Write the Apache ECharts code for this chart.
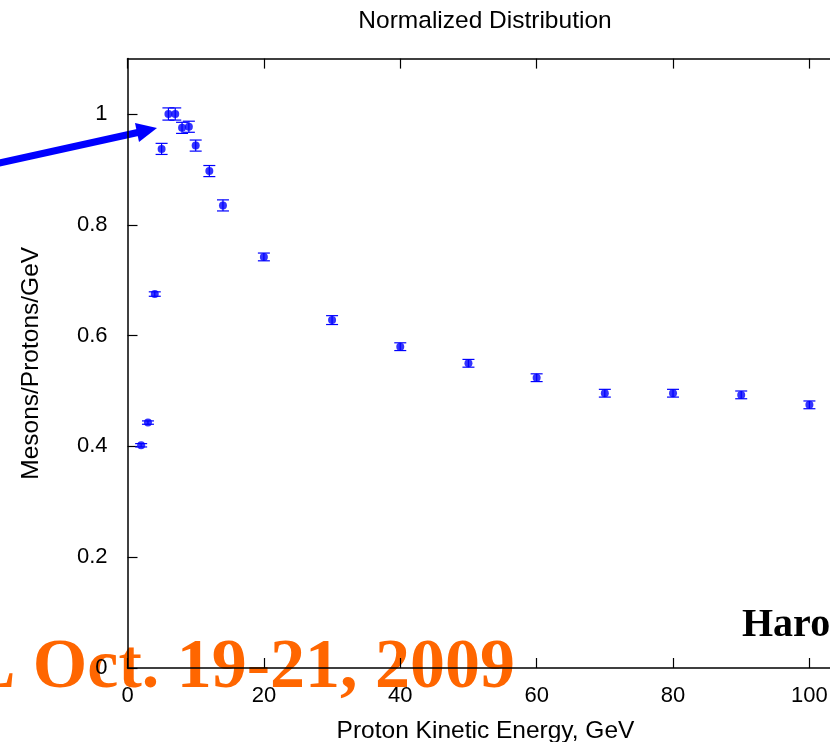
<!DOCTYPE html>
<html>
<head>
<meta charset="utf-8">
<script src="https://cdn.jsdelivr.net/npm/echarts@6/dist/echarts.min.js"></script>
<style>
  html, body { margin: 0; padding: 0; background: #fff; }
  #chart { width: 830px; height: 742px; }
</style>
</head>
<body>
<div id="chart"></div>
<script>
// Proton kinetic energy (GeV)
const energies = [2, 3, 4, 5, 6, 7, 8, 9, 10, 12, 14, 20, 30, 40, 50, 60, 70, 80, 90, 100];
// Mesons per proton per GeV, normalized
const ratios = [0.402, 0.443, 0.675, 0.937, 1.000, 1.000, 0.975, 0.977, 0.943, 0.897, 0.835,
                0.742, 0.628, 0.580, 0.550, 0.524, 0.496, 0.496, 0.493, 0.475];
// Statistical uncertainty on each ratio
const errors = [0.003, 0.003, 0.004, 0.010, 0.011, 0.011, 0.010, 0.010, 0.010, 0.010, 0.010,
                0.007, 0.008, 0.007, 0.007, 0.007, 0.007, 0.007, 0.007, 0.007];

const xTicks = { min: 0, max: 105, interval: 20 };
const yTicks = { min: 0, max: 1.1, interval: 0.2 };

const points = energies.map((e, i) => [e, ratios[i]]);
const bars = energies.map((e, i) => [e, ratios[i] - errors[i], ratios[i] + errors[i]]);

const FONT = '"Liberation Sans", Arial, sans-serif';
const SERIF = '"Liberation Serif", "Times New Roman", serif';
const BLUE = '#0000ff';
const labelStyle = { color: '#000', fontFamily: FONT, fontSize: 22 };
const nameStyle = { color: '#000', fontFamily: FONT, fontSize: 24.5 };

const chart = echarts.init(document.getElementById('chart'), null, { renderer: 'canvas' });

function frameAxis(extra) {
  return Object.assign({
    type: 'value',
    axisLine: { show: true, onZero: false, lineStyle: { color: '#000', width: 1.5 } },
    axisTick: { show: true, inside: true, length: 10, lineStyle: { color: '#000', width: 1.2 } },
    splitLine: { show: false }
  }, extra);
}

chart.setOption({
  animation: false,
  backgroundColor: '#fff',
  grid: {
    left: 127.5, top: 58.6, width: 716, height: 609.4,
    containLabel: false, outerBoundsMode: 'none'
  },
  xAxis: [
    frameAxis({
      position: 'bottom', min: xTicks.min, max: xTicks.max, interval: xTicks.interval,
      axisLabel: Object.assign({ margin: 17, showMaxLabel: false }, labelStyle),
      name: 'Proton Kinetic Energy, GeV', nameLocation: 'middle', nameGap: 51,
      nameTextStyle: nameStyle
    }),
    frameAxis({
      position: 'top', min: xTicks.min, max: xTicks.max, interval: xTicks.interval,
      axisLabel: { show: false }
    })
  ],
  yAxis: [
    frameAxis({
      position: 'left', min: yTicks.min, max: yTicks.max, interval: yTicks.interval,
      axisLabel: Object.assign({ margin: 20, showMaxLabel: false }, labelStyle),
      name: 'Mesons/Protons/GeV', nameLocation: 'middle', nameGap: 84,
      nameTextStyle: nameStyle
    }),
    frameAxis({
      position: 'right', min: yTicks.min, max: yTicks.max, interval: yTicks.interval,
      axisLabel: { show: false }
    })
  ],
  series: [
    {
      name: 'errors',
      type: 'custom',
      data: bars,
      z: 3,
      renderItem: function (params, api) {
        const x = api.value(0);
        const lo = api.coord([x, api.value(1)]);
        const hi = api.coord([x, api.value(2)]);
        const cap = 6;
        const style = { stroke: BLUE, lineWidth: 1.2 };
        return {
          type: 'group',
          children: [
            { type: 'line', shape: { x1: lo[0], y1: lo[1], x2: hi[0], y2: hi[1] }, style: style },
            { type: 'line', shape: { x1: lo[0] - cap, y1: lo[1], x2: lo[0] + cap, y2: lo[1] }, style: style },
            { type: 'line', shape: { x1: hi[0] - cap, y1: hi[1], x2: hi[0] + cap, y2: hi[1] }, style: style }
          ]
        };
      }
    },
    {
      name: 'ratio',
      type: 'scatter',
      data: points,
      symbol: 'circle',
      symbolSize: 8,
      itemStyle: { color: BLUE },
      z: 4
    }
  ],
  graphic: [
    {
      type: 'text', x: 485, y: 21, z: 10,
      style: { text: 'Normalized Distribution', fill: '#000', font: '24.5px ' + FONT,
               textAlign: 'center', textVerticalAlign: 'middle' }
    },
    {
      type: 'text', x: 515, y: 704, z: -10,
      style: { text: 'L Oct. 19-21, 2009', fill: '#ff6600', font: 'bold 70px ' + SERIF,
               textAlign: 'right', textVerticalAlign: 'bottom' }
    },
    {
      type: 'text', x: 742, y: 646, z: 10,
      style: { text: 'Haro', fill: '#000', font: 'bold 40px ' + SERIF,
               textAlign: 'left', textVerticalAlign: 'bottom' }
    },
    {
      // pointer arrow toward the peak
      type: 'group', z: 20,
      children: [
        { type: 'line', shape: { x1: -5, y1: 164, x2: 140, y2: 132 },
          style: { stroke: BLUE, lineWidth: 7 } },
        { type: 'polygon', shape: { points: [[157, 128], [135, 123], [139, 142]] },
          style: { fill: BLUE } }
      ]
    }
  ]
});
</script>
</body>
</html>
